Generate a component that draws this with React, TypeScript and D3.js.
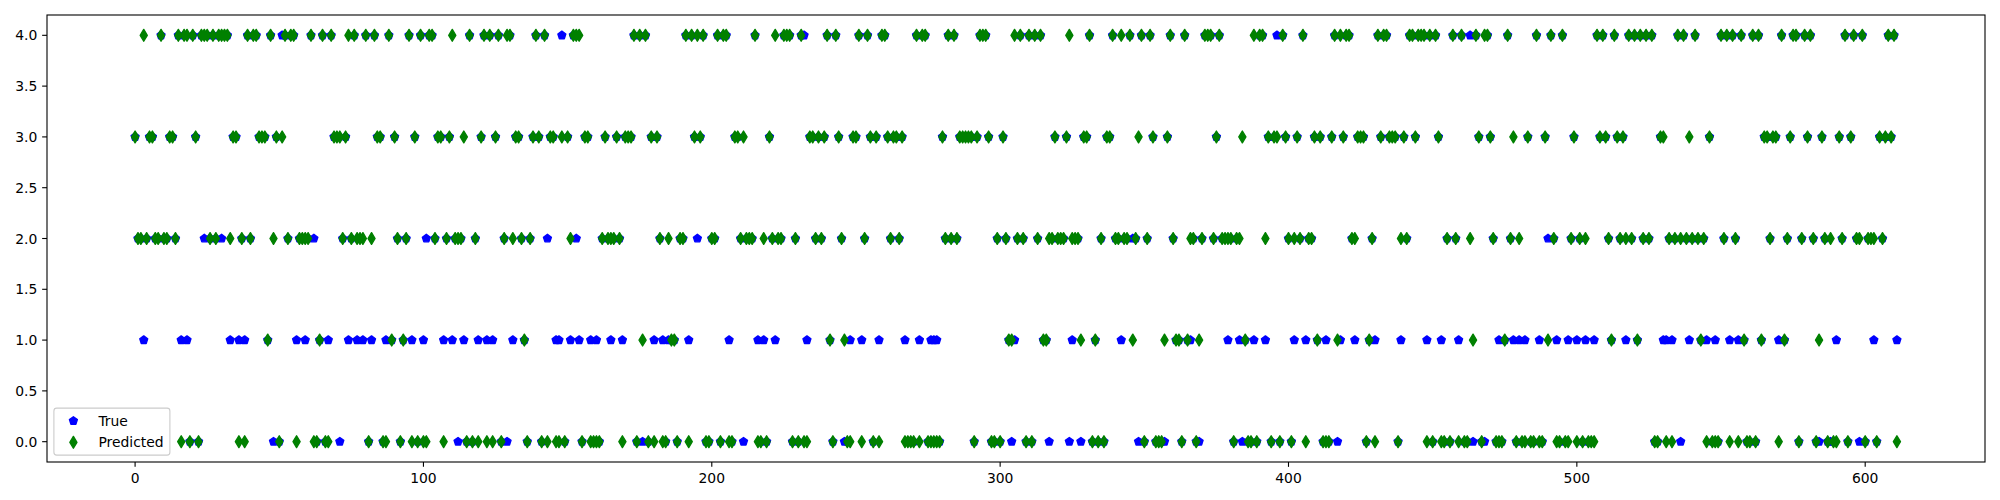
import * as d3 from "d3";

// class per sample index (0..611)
const trueClass = [
  3,2,2,1,2,3,3,2,2,4, 2,2,3,3,2,4,1,4,1,0,
  4,3,0,4,2,4,2,4,2,4, 2,4,4,1,3,3,1,2,1,4,
  2,4,4,3,3,3,1,4,0,3, 0,4,4,2,4,4,1,2,2,1,
  2,4,2,0,1,4,0,1,4,3, 3,0,2,3,1,2,4,1,2,1,
  4,0,1,4,3,3,0,1,4,1, 3,2,0,1,2,4,1,3,0,4,
  1,2,4,4,2,3,3,1,2,3, 1,2,0,2,1,0,4,0,2,1,
  3,4,1,4,1,3,4,0,2,0, 4,1,3,3,2,1,0,2,3,4,
  3,0,4,2,3,3,1,1,4,0, 3,1,4,2,1,0,3,3,1,0,
  1,0,2,3,2,1,2,3,2,1, 3,3,3,4,0,4,0,4,0,3,
  1,3,2,1,0,1,1,1,0,2, 2,4,1,4,3,2,3,4,0,0,
  2,2,4,0,4,4,1,0,3,3, 2,0,2,2,2,4,1,0,1,0,
  3,2,1,2,2,4,4,4,0,2, 0,4,4,1,3,3,2,3,2,3,
  4,1,0,4,3,2,0,0,1,3, 3,4,1,2,4,3,0,3,1,4,
  4,3,2,3,3,2,3,1,0,0, 0,4,1,4,4,0,1,1,1,0,
  3,2,4,2,4,2,3,3,3,3, 3,0,3,4,4,4,3,0,0,2,
  0,3,2,1,0,1,2,4,2,0, 4,0,4,2,4,1,1,0,2,3,
  2,2,2,3,0,1,2,2,0,3, 3,4,0,1,0,2,0,3,3,4,
  2,2,1,2,2,4,2,2,0,4, 0,2,4,3,0,0,0,0,3,4,
  2,1,1,0,4,1,1,2,0,0, 2,4,4,4,2,3,4,2,2,1,
  2,0,2,1,0,1,0,0,1,0, 4,4,1,3,0,3,4,0,4,3,
  2,0,1,3,2,4,1,2,2,3, 1,3,0,1,0,3,4,0,1,3,
  4,4,2,1,3,3,3,0,1,2, 1,4,3,4,4,3,3,3,0,1,
  3,2,4,4,3,4,4,4,1,4, 0,4,3,1,0,2,0,4,2,1,
  4,0,0,4,0,4,3,0,0,4, 3,2,0,1,0,1,4,2,1,0,
  1,0,1,3,0,0,4,1,0,3, 2,4,2,1,0,4,0,1,2,3,
  1,2,0,1,0,0,1,4,3,4, 3,2,1,4,3,2,3,1,4,2,
  4,1,4,2,4,2,4,0,0,3, 1,1,2,1,2,4,0,4,2,1,
  2,4,2,1,2,1,3,0,1,0, 4,2,4,1,4,2,1,4,1,0,
  0,4,0,4,1,3,3,2,3,3, 1,4,1,2,3,4,4,0,2,4,
  3,4,2,0,0,3,2,0,0,0, 1,3,2,4,0,3,4,2,0,4,
  0,2,2,1,0,3,2,3,4,3, 4,1,
];

const predictedClass = [
  3,2,2,4,2,3,3,2,2,4, 2,2,3,3,2,4,0,4,4,0,
  4,3,0,4,4,4,2,4,2,4, 4,4,4,2,3,3,0,2,0,4,
  2,4,4,3,3,3,1,4,2,3, 0,3,4,2,4,4,0,2,2,2,
  2,4,0,0,1,4,0,0,4,3, 3,3,2,3,4,2,4,2,2,2,
  4,0,2,4,3,3,0,0,4,1, 3,2,0,1,2,4,0,3,0,4,
  0,0,4,4,2,3,3,0,2,3, 4,2,2,2,3,0,4,0,2,0,
  3,4,0,4,0,3,4,0,2,4, 4,2,3,3,2,1,0,2,3,4,
  3,0,4,0,3,3,0,0,3,0, 3,2,4,4,4,0,3,3,0,0,
  0,0,2,3,2,2,2,3,2,0, 3,3,3,4,0,4,1,4,0,3,
  0,3,2,0,0,2,1,1,0,2, 2,4,0,4,3,4,3,4,0,0,
  2,2,4,0,4,4,0,0,3,3, 2,3,2,2,2,4,0,0,2,0,
  3,2,4,2,2,4,4,4,0,2, 0,4,0,0,3,3,2,3,2,3,
  4,1,0,4,3,2,1,0,0,3, 3,4,0,2,4,3,0,3,0,4,
  4,3,2,3,3,2,3,0,0,0, 0,4,0,4,4,0,0,0,0,0,
  3,2,4,2,4,2,3,3,3,3, 3,0,3,4,4,4,3,0,0,2,
  0,3,2,1,1,4,2,4,2,0, 4,0,4,2,4,1,1,2,2,3,
  2,2,2,3,4,2,2,2,1,3, 3,4,0,1,0,2,0,3,3,4,
  2,2,4,2,2,4,1,2,3,4, 0,2,4,3,0,0,0,1,3,4,
  2,1,1,0,4,1,2,2,0,1, 2,4,4,4,2,3,4,2,2,2,
  2,0,2,2,3,1,0,0,4,0, 4,4,2,3,0,3,3,0,4,3,
  2,0,2,3,2,4,0,2,2,3, 1,3,0,0,0,3,4,1,4,3,
  4,4,2,2,3,3,3,0,1,2, 0,4,3,4,4,3,3,3,0,2,
  3,2,4,4,3,4,4,4,0,4, 0,4,3,0,0,2,0,4,2,0,
  4,0,0,2,1,4,3,0,4,4, 3,2,0,0,0,1,4,2,3,0,
  2,0,0,3,0,0,4,0,0,3, 1,4,2,0,0,4,0,0,2,3,
  0,2,0,2,0,0,0,4,3,4, 3,2,1,4,3,2,3,2,4,2,
  4,1,4,2,4,2,4,0,0,3, 3,0,2,0,2,4,2,4,2,3,
  2,4,2,1,2,0,3,0,0,0, 4,2,4,0,4,2,0,4,1,0,
  0,4,0,4,1,3,3,2,3,3, 0,4,1,2,3,4,4,0,2,4,
  3,4,2,0,1,3,2,0,2,0, 0,3,2,4,0,3,4,2,2,4,
  0,2,2,2,0,3,2,3,4,3, 4,0,
];

const xTicks = [0, 100, 200, 300, 400, 500, 600];
const yTicks = [0, 0.5, 1, 1.5, 2, 2.5, 3, 3.5, 4];
const seriesNames = ["True", "Predicted"];

const W = 2000;
const H = 500;
const left = 47, right = 1985, top = 15, bottom = 462;
const font = "DejaVu Sans";
const fs = 13.9;

// matplotlib marker shapes (markersize 6pt at 100dpi)
const ms = 6 * 100 / 72;
const mew = 1.39;
const pentagon = (() => {
  const r = ms / 2;
  const pts = d3.range(5).map((k) => {
    const a = -Math.PI / 2 + (k * 2 * Math.PI) / 5;
    return [r * Math.cos(a), r * Math.sin(a)];
  });
  return "M" + pts.map((p) => p.join(",")).join("L") + "Z";
})();
const dh = ms * Math.SQRT1_2;
const dw = dh * 0.6;
const thinDiamond = `M0,${-dh}L${dw},0L0,${dh}L${-dw},0Z`;

export default function App() {
  const n = trueClass.length;
  const x = d3.scaleLinear().domain([-0.05 * (n - 1), 1.05 * (n - 1)]).range([left, right]);
  const y = d3.scaleLinear().domain([-0.2, 4.2]).range([bottom, top]);
  const fmt = d3.format(".1f");
  const tick = 4.86;

  // legend box
  const lx = left + 6.9;
  const lw = 116;
  const lh = 47;
  const ly = bottom - 6.9 - lh;

  return (
    <svg width={W} height={H} style={{ position: "absolute", left: 0, top: 0, background: "#fff" }}
      fontFamily={font} fontSize={fs}>
      <rect x={0} y={0} width={W} height={H} fill="#fff" />

      {trueClass.map((v, i) => (
        <path key={"t" + i} d={pentagon} transform={`translate(${x(i)},${y(v)})`}
          fill="#0000ff" stroke="#0000ff" strokeWidth={mew} strokeLinejoin="round" />
      ))}
      {predictedClass.map((v, i) => (
        <path key={"p" + i} d={thinDiamond} transform={`translate(${x(i)},${y(v)})`}
          fill="#008000" stroke="#008000" strokeWidth={mew} strokeLinejoin="round" />
      ))}

      <rect x={left} y={top} width={right - left} height={bottom - top}
        fill="none" stroke="#000" strokeWidth={1.1} />

      {xTicks.map((t) => (
        <g key={"x" + t}>
          <line x1={x(t)} x2={x(t)} y1={bottom} y2={bottom + tick} stroke="#000" strokeWidth={1.1} />
          <text x={x(t)} y={bottom + 21} textAnchor="middle" fill="#000">{t}</text>
        </g>
      ))}
      {yTicks.map((t) => (
        <g key={"y" + t}>
          <line x1={left - tick} x2={left} y1={y(t)} y2={y(t)} stroke="#000" strokeWidth={1.1} />
          <text x={left - 2 * tick} y={y(t) + 5} textAnchor="end" fill="#000">{fmt(t)}</text>
        </g>
      ))}

      <g>
        <rect x={lx} y={ly} width={lw} height={lh} rx={2.8} fill="#fff" fillOpacity={0.8}
          stroke="#cccccc" strokeWidth={1.1} />
        <path d={pentagon} transform={`translate(${lx + 19.5},${ly + 12.8})`}
          fill="#0000ff" stroke="#0000ff" strokeWidth={mew} strokeLinejoin="round" />
        <text x={lx + 44.5} y={ly + 17.8} fill="#000">{seriesNames[0]}</text>
        <path d={thinDiamond} transform={`translate(${lx + 19.5},${ly + 34.2})`}
          fill="#008000" stroke="#008000" strokeWidth={mew} strokeLinejoin="round" />
        <text x={lx + 44.5} y={ly + 39.2} fill="#000">{seriesNames[1]}</text>
      </g>
    </svg>
  );
}
